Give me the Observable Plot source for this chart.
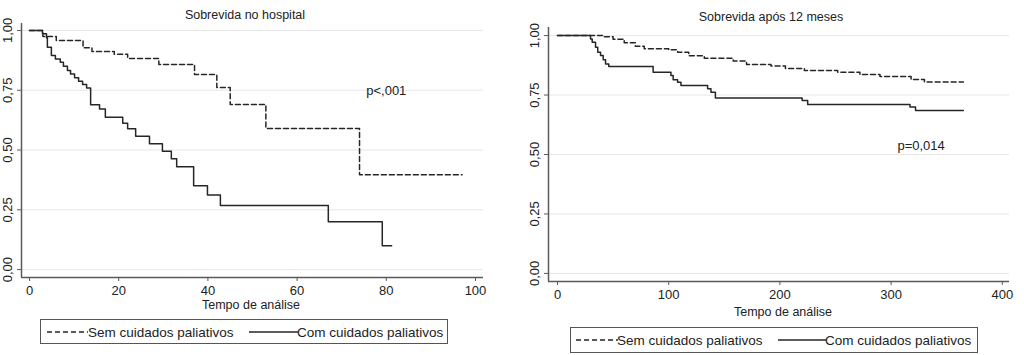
<!DOCTYPE html>
<html><head><meta charset="utf-8">
<script src="https://cdn.jsdelivr.net/npm/d3@7"></script>
<script src="https://cdn.jsdelivr.net/npm/@observablehq/plot@0.6"></script>
<style>
body{margin:0;background:#fff;font-family:"Liberation Sans",Arial,Helvetica,sans-serif;color:#222;}
#root{position:relative;width:1024px;height:355px;overflow:hidden;}
.abs{position:absolute;white-space:nowrap;}
.c{transform:translateX(-50%);}
.title{font-size:12.5px;}
.xlab{font-size:12.5px;}
.legend{position:absolute;border:1.3px solid #555;box-sizing:border-box;font-size:13.5px;}
.legend .t{position:absolute;top:50%;transform:translateY(-50%);white-space:nowrap;}
</style>
</head><body><div id="root"></div>
<script>
// ---- data ----
const yTicks = [0, 0.25, 0.5, 0.75, 1];
const leftXTicks = [0, 20, 40, 60, 80, 100];
const rightXTicks = [0, 100, 200, 300, 400];
const seriesNames = ["Sem cuidados paliativos", "Com cuidados paliativos"];

const leftTimeSem = [0, 3, 6, 12, 14, 19, 22, 29, 37, 42, 45, 53, 74, 97];
const leftSurvSem = [1, 0.975, 0.958, 0.928, 0.912, 0.90, 0.883, 0.858, 0.816, 0.761, 0.69, 0.59, 0.397, 0.397];
const leftTimeCom = [0, 2.9, 3.8, 4.0, 4.9, 5.8, 6.9, 7.6, 8.5, 9.2, 10.1, 11.0, 11.9, 12.8, 13.7, 15.7, 17.0, 20.9, 22.0, 23.8, 26.9, 29.8, 31.8, 33.0, 36.8, 39.9, 42.8, 67.0, 79.1, 81.2];
const leftSurvCom = [1, 0.986, 0.969, 0.93, 0.895, 0.881, 0.867, 0.85, 0.833, 0.818, 0.802, 0.788, 0.774, 0.759, 0.689, 0.672, 0.637, 0.612, 0.589, 0.558, 0.526, 0.495, 0.463, 0.43, 0.351, 0.312, 0.268, 0.20, 0.10, 0.10];

const rightTimeSem = [0, 42, 50, 60, 70, 78, 100, 108, 118, 132, 158, 170, 192, 205, 222, 252, 272, 290, 318, 330, 365];
const rightSurvSem = [1, 0.995, 0.985, 0.97, 0.955, 0.945, 0.94, 0.93, 0.915, 0.905, 0.893, 0.878, 0.872, 0.862, 0.853, 0.846, 0.836, 0.828, 0.815, 0.805, 0.805];
const rightTimeCom = [0, 29.7, 31.2, 34.2, 36.2, 38.7, 41.1, 43.2, 46.1, 86, 102, 104, 108, 111, 135, 138, 142, 220, 225, 317, 322, 365];
const rightSurvCom = [1, 0.986, 0.972, 0.951, 0.930, 0.916, 0.898, 0.881, 0.870, 0.846, 0.832, 0.814, 0.804, 0.79, 0.776, 0.762, 0.738, 0.727, 0.71, 0.70, 0.685, 0.685];

const leftTitle = "Sobrevida no hospital";
const rightTitle = "Sobrevida após 12 meses";
const xLabel = "Tempo de análise";
const leftP = {x: 80, y: 0.749, label: "p<,001"};
const rightP = {x: 327, y: 0.538, label: "p=0,014"};

// ---- helpers ----
const fmtY = d => d3.format(".2f")(d).replace(".", ",");
const toRows = (ts, ss) => ts.map((t, i) => ({t, s: ss[i]}));
const LINE = "#262626", AXIS = "#5a5a5a";

function panel({xDomain, yDomain, xTicks, sem, com, p, width, height, margins}) {
  return Plot.plot({
    width, height,
    marginLeft: margins[0], marginRight: margins[1], marginTop: margins[2], marginBottom: margins[3],
    style: {fontFamily: '"Liberation Sans", Arial, sans-serif', fontSize: "13px", color: "#222", background: "transparent"},
    x: {domain: xDomain},
    y: {domain: yDomain},
    marks: [
      Plot.gridY(yTicks, {stroke: "#e6e6e6", strokeOpacity: 1}),
      Plot.line(sem, {x: "t", y: "s", curve: "step-after", stroke: LINE, strokeWidth: 1.5, strokeDasharray: "5,3"}),
      Plot.line(com, {x: "t", y: "s", curve: "step-after", stroke: LINE, strokeWidth: 1.5}),
      Plot.ruleX([xDomain[0]], {y1: yDomain[0], y2: yDomain[1], stroke: AXIS, strokeWidth: 1.5}),
      Plot.ruleY([yDomain[0]], {x1: xDomain[0], x2: xDomain[1], stroke: AXIS, strokeWidth: 1.5}),
      Plot.axisX(xTicks, {tickSize: 4, tickPadding: 4, stroke: AXIS, label: null}),
      Plot.axisY(yTicks, {tickSize: 4, tickPadding: 6, tickFormat: fmtY, tickRotate: -90, textAnchor: "middle", stroke: AXIS, label: null}),
      Plot.text([p], {x: "x", y: "y", text: "label", fontSize: 13, fill: "#222"})
    ]
  });
}

const root = document.getElementById("root");
function add(html) { const d = document.createElement("div"); d.innerHTML = html; const el = d.firstElementChild; root.appendChild(el); return el; }

// left panel
const leftSvg = panel({
  xDomain: [-1.8, 101.8], yDomain: [-0.033, 1.029], xTicks: leftXTicks,
  sem: toRows(leftTimeSem, leftSurvSem), com: toRows(leftTimeCom, leftSurvCom), p: leftP,
  width: 512, height: 300, margins: [21, 29, 23, 23]
});
leftSvg.style.position = "absolute"; leftSvg.style.left = "0px"; leftSvg.style.top = "0px";
root.appendChild(leftSvg);

// right panel
const rightSvg = panel({
  xDomain: [-8.1, 406.5], yDomain: [-0.034, 1.034], xTicks: rightXTicks,
  sem: toRows(rightTimeSem, rightSurvSem), com: toRows(rightTimeCom, rightSurvCom), p: rightP,
  width: 512, height: 305, margins: [36, 15, 27, 24]
});
rightSvg.style.position = "absolute"; rightSvg.style.left = "512px"; rightSvg.style.top = "0px";
root.appendChild(rightSvg);

// titles and axis labels
add(`<div class="abs c title" style="left:245px;top:8px">${leftTitle}</div>`);
add(`<div class="abs c title" style="left:771px;top:10px">${rightTitle}</div>`);
add(`<div class="abs c xlab" style="left:251px;top:298px">${xLabel}</div>`);
add(`<div class="abs c xlab" style="left:783px;top:305px">${xLabel}</div>`);

function swatch(dashed, w) {
  return `<svg width="${w}" height="4" style="display:block"><line x1="0" x2="${w}" y1="2" y2="2" stroke="${LINE}" stroke-width="1.3" ${dashed ? 'stroke-dasharray="5,3"' : ''}/></svg>`;
}
function legend(left, top, w, h, sw1x, sw1w, t1x, sw2x, sw2w, t2x) {
  add(`<div class="legend" style="left:${left}px;top:${top}px;width:${w}px;height:${h}px">
    <div style="position:absolute;left:${sw1x}px;top:50%;transform:translateY(-50%)">${swatch(true, sw1w)}</div>
    <div class="t" style="left:${t1x}px">${seriesNames[0]}</div>
    <div style="position:absolute;left:${sw2x}px;top:50%;transform:translateY(-50%)">${swatch(false, sw2w)}</div>
    <div class="t" style="left:${t2x}px">${seriesNames[1]}</div>
  </div>`);
}
legend(40, 319, 408, 25, 6, 41, 47, 208, 49, 256);
legend(570, 327, 408, 26, 5, 42, 46, 207, 48, 254);
</script></body></html>
